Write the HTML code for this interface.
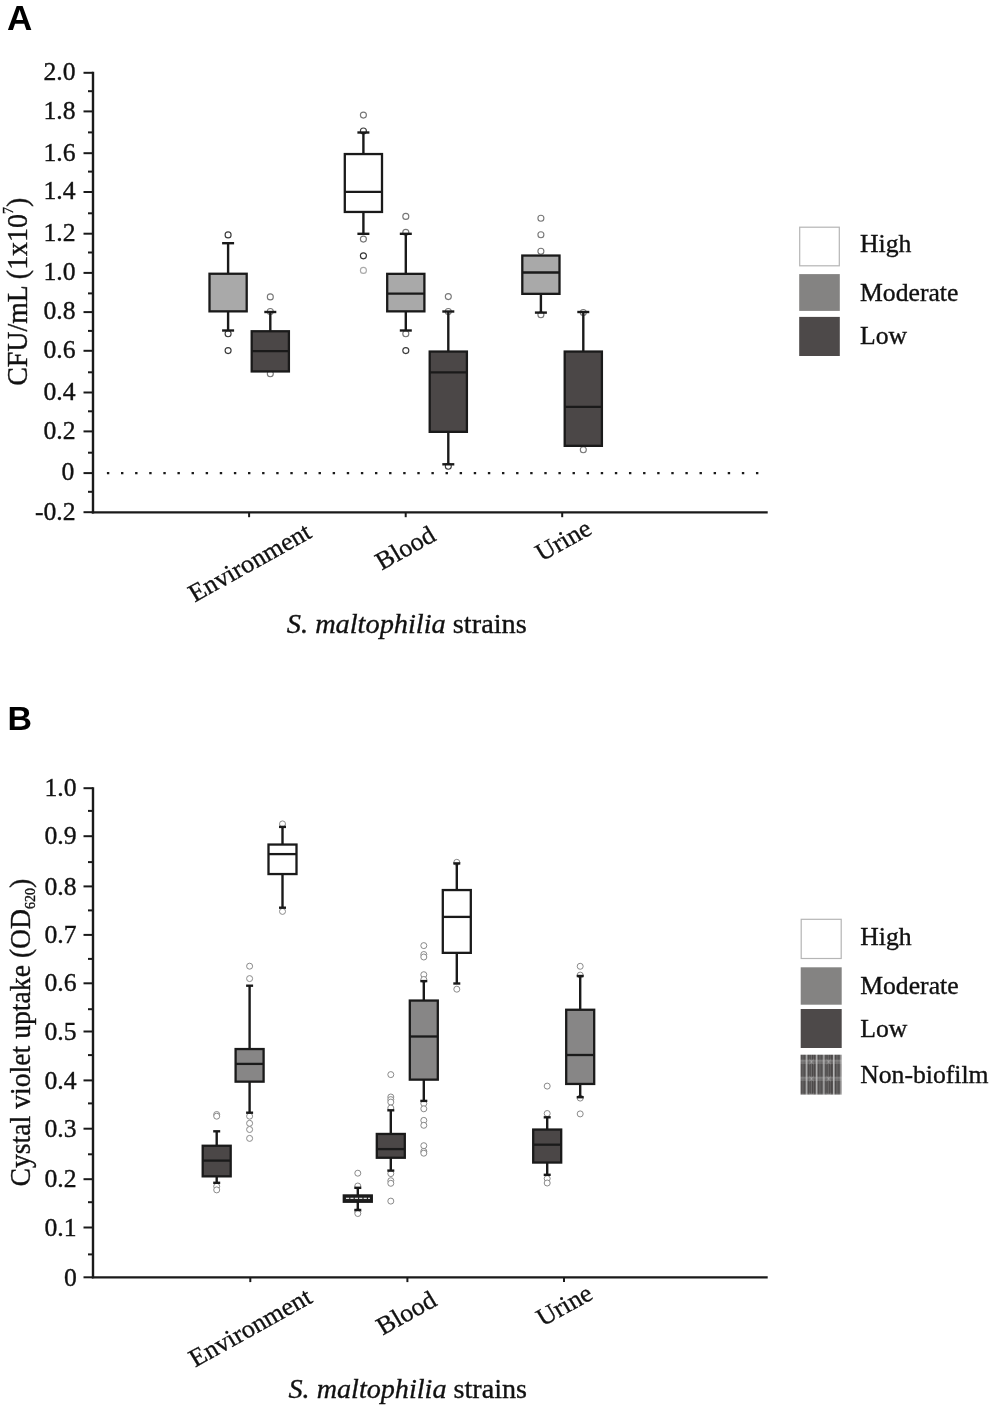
<!DOCTYPE html>
<html lang="en"><head><meta charset="utf-8"><title>Biofilm formation of S. maltophilia strains</title>
<style>html,body{margin:0;padding:0;background:#fff}svg{display:block}.s{font-family:"Liberation Serif", "DejaVu Serif", serif;fill:#111;stroke:#111;stroke-width:.35px;paint-order:stroke}.b{font-family:"Liberation Sans", "DejaVu Sans", sans-serif;font-weight:700;fill:#000}</style></head><body>
<svg width="992" height="1409" viewBox="0 0 992 1409">
<defs><pattern id="nb" x="800.5" y="1054.7" width="17.2" height="17.0" patternUnits="userSpaceOnUse"><rect width="17.2" height="17.0" fill="#4b4848"/><rect x="1.5" y="0" width="0.9" height="17.0" fill="#7a7878"/><rect x="3.4" y="0" width="0.6" height="17.0" fill="#666"/><rect x="5.3" y="0" width="1.7" height="17.0" fill="#b4b4b4"/><rect x="8.6" y="0" width="0.6" height="17.0" fill="#666"/><rect x="10.3" y="0" width="0.9" height="17.0" fill="#7a7878"/><rect x="12.6" y="0" width="0.7" height="17.0" fill="#6a6868"/><rect x="15.2" y="0" width="1.7" height="17.0" fill="#b4b4b4"/><rect x="0" y="5.4" width="17.2" height="1.2" fill="#c8c8c8" opacity="0.55"/><rect x="0" y="7.6" width="17.2" height="1.1" fill="#c8c8c8" opacity="0.45"/><path d="M9 4.6 L13 9.4 M13 4.6 L9 9.4" stroke="#c4c4c4" stroke-width="0.8" opacity="0.7" fill="none"/></pattern></defs>
<rect width="992" height="1409" fill="#fff"/>
<g id="panelA">
<text x="6.9" y="29.8" font-size="35" class="b">A</text>
<line x1="93.0" y1="71.8" x2="93.0" y2="513.4" stroke="#1a1a1a" stroke-width="2.4"/>
<line x1="91.8" y1="512.4" x2="767.7" y2="512.4" stroke="#1a1a1a" stroke-width="2.2"/>
<line x1="83.5" y1="72.8" x2="93.0" y2="72.8" stroke="#1a1a1a" stroke-width="2"/>
<text transform="translate(75.6 80.1) scale(1.04 1)" text-anchor="end" font-size="24.7" class="s">2.0</text>
<line x1="83.5" y1="111.4" x2="93.0" y2="111.4" stroke="#1a1a1a" stroke-width="2"/>
<text transform="translate(75.6 118.7) scale(1.04 1)" text-anchor="end" font-size="24.7" class="s">1.8</text>
<line x1="83.5" y1="153.2" x2="93.0" y2="153.2" stroke="#1a1a1a" stroke-width="2"/>
<text transform="translate(75.6 160.5) scale(1.04 1)" text-anchor="end" font-size="24.7" class="s">1.6</text>
<line x1="83.5" y1="192.0" x2="93.0" y2="192.0" stroke="#1a1a1a" stroke-width="2"/>
<text transform="translate(75.6 199.3) scale(1.04 1)" text-anchor="end" font-size="24.7" class="s">1.4</text>
<line x1="83.5" y1="233.7" x2="93.0" y2="233.7" stroke="#1a1a1a" stroke-width="2"/>
<text transform="translate(75.6 241.0) scale(1.04 1)" text-anchor="end" font-size="24.7" class="s">1.2</text>
<line x1="83.5" y1="272.9" x2="93.0" y2="272.9" stroke="#1a1a1a" stroke-width="2"/>
<text transform="translate(75.6 280.2) scale(1.04 1)" text-anchor="end" font-size="24.7" class="s">1.0</text>
<line x1="83.5" y1="312.1" x2="93.0" y2="312.1" stroke="#1a1a1a" stroke-width="2"/>
<text transform="translate(75.6 319.40000000000003) scale(1.04 1)" text-anchor="end" font-size="24.7" class="s">0.8</text>
<line x1="83.5" y1="350.8" x2="93.0" y2="350.8" stroke="#1a1a1a" stroke-width="2"/>
<text transform="translate(75.6 358.1) scale(1.04 1)" text-anchor="end" font-size="24.7" class="s">0.6</text>
<line x1="83.5" y1="392.5" x2="93.0" y2="392.5" stroke="#1a1a1a" stroke-width="2"/>
<text transform="translate(75.6 399.8) scale(1.04 1)" text-anchor="end" font-size="24.7" class="s">0.4</text>
<line x1="83.5" y1="431.4" x2="93.0" y2="431.4" stroke="#1a1a1a" stroke-width="2"/>
<text transform="translate(75.6 438.7) scale(1.04 1)" text-anchor="end" font-size="24.7" class="s">0.2</text>
<line x1="83.5" y1="473.1" x2="93.0" y2="473.1" stroke="#1a1a1a" stroke-width="2"/>
<text transform="translate(74.39999999999999 480.40000000000003) scale(1.04 1)" text-anchor="end" font-size="24.7" class="s">0</text>
<line x1="83.5" y1="512.2" x2="93.0" y2="512.2" stroke="#1a1a1a" stroke-width="2"/>
<text transform="translate(75.6 519.5) scale(1.04 1)" text-anchor="end" font-size="24.7" class="s">-0.2</text>
<line x1="88.0" y1="91.2" x2="93.0" y2="91.2" stroke="#1a1a1a" stroke-width="2"/>
<line x1="88.0" y1="132.4" x2="93.0" y2="132.4" stroke="#1a1a1a" stroke-width="2"/>
<line x1="88.0" y1="171.6" x2="93.0" y2="171.6" stroke="#1a1a1a" stroke-width="2"/>
<line x1="88.0" y1="213.3" x2="93.0" y2="213.3" stroke="#1a1a1a" stroke-width="2"/>
<line x1="88.0" y1="252.5" x2="93.0" y2="252.5" stroke="#1a1a1a" stroke-width="2"/>
<line x1="88.0" y1="293.4" x2="93.0" y2="293.4" stroke="#1a1a1a" stroke-width="2"/>
<line x1="88.0" y1="330.9" x2="93.0" y2="330.9" stroke="#1a1a1a" stroke-width="2"/>
<line x1="88.0" y1="372.3" x2="93.0" y2="372.3" stroke="#1a1a1a" stroke-width="2"/>
<line x1="88.0" y1="411.3" x2="93.0" y2="411.3" stroke="#1a1a1a" stroke-width="2"/>
<line x1="88.0" y1="452.7" x2="93.0" y2="452.7" stroke="#1a1a1a" stroke-width="2"/>
<line x1="88.0" y1="491.8" x2="93.0" y2="491.8" stroke="#1a1a1a" stroke-width="2"/>
<line x1="249.1" y1="512.4" x2="249.1" y2="517.1999999999999" stroke="#1a1a1a" stroke-width="2"/>
<line x1="405.7" y1="512.4" x2="405.7" y2="517.1999999999999" stroke="#1a1a1a" stroke-width="2"/>
<line x1="562.2" y1="512.4" x2="562.2" y2="517.1999999999999" stroke="#1a1a1a" stroke-width="2"/>
<line x1="106.9" y1="473.1" x2="760" y2="473.1" stroke="#1a1a1a" stroke-width="2.3" stroke-dasharray="2.4 11.71"/>
<text transform="translate(27.3 291.8) scale(1.04 1) rotate(-90)" text-anchor="middle" font-size="27.9" class="s">CFU/mL (1x10<tspan font-size="14" dy="-13.5">7</tspan><tspan dy="13.5">)</tspan></text>
<text transform="translate(253.9 569.6) scale(1.04 1) rotate(-30)" text-anchor="middle" font-size="25.2" class="s">Environment</text>
<text transform="translate(409.5 555) scale(1.04 1) rotate(-30)" text-anchor="middle" font-size="25.2" class="s">Blood</text>
<text transform="translate(567.5 547.5) scale(1.04 1) rotate(-30)" text-anchor="middle" font-size="25.2" class="s">Urine</text>
<text transform="translate(286.8 633.0) scale(1.031 1)" text-anchor="start" font-size="27.5" class="s"><tspan font-style="italic">S. maltophilia</tspan> strains</text>
<circle cx="228.1" cy="234.9" r="3.0" fill="#fff" stroke="#3a3a3a" stroke-width="1.15"/>
<circle cx="228.1" cy="333.7" r="3.0" fill="#fff" stroke="#3a3a3a" stroke-width="1.15"/>
<circle cx="228.1" cy="350.6" r="3.0" fill="#fff" stroke="#3a3a3a" stroke-width="1.15"/>
<line x1="228.1" y1="243.2" x2="228.1" y2="273.75" stroke="#1a1a1a" stroke-width="2.4"/>
<line x1="222.1" y1="243.2" x2="234.1" y2="243.2" stroke="#1a1a1a" stroke-width="2.4"/>
<line x1="228.1" y1="311.35" x2="228.1" y2="330.5" stroke="#1a1a1a" stroke-width="2.4"/>
<line x1="222.1" y1="330.5" x2="234.1" y2="330.5" stroke="#1a1a1a" stroke-width="2.4"/>
<rect x="209.50" y="273.75" width="37.20" height="37.60" fill="#a9a9a9" stroke="#1a1a1a" stroke-width="2.3"/>
<circle cx="270.3" cy="296.9" r="3.0" fill="#fff" stroke="#777" stroke-width="1.1"/>
<circle cx="270.3" cy="311.5" r="3.0" fill="#fff" stroke="#777" stroke-width="1.1"/>
<circle cx="270.3" cy="373.8" r="3.0" fill="#fff" stroke="#777" stroke-width="1.1"/>
<line x1="270.3" y1="312.0" x2="270.3" y2="331.25" stroke="#1a1a1a" stroke-width="2.4"/>
<line x1="264.3" y1="312.0" x2="276.3" y2="312.0" stroke="#1a1a1a" stroke-width="2.4"/>
<rect x="251.70" y="331.25" width="37.20" height="40.20" fill="#4b4747" stroke="#1a1a1a" stroke-width="2.3"/>
<line x1="251.70" y1="351.2" x2="288.90" y2="351.2" stroke="#1a1a1a" stroke-width="2.3"/>
<circle cx="363.4" cy="115.1" r="3.0" fill="#fff" stroke="#777" stroke-width="1.15"/>
<circle cx="363.4" cy="131.0" r="3.0" fill="#fff" stroke="#3a3a3a" stroke-width="1.15"/>
<circle cx="363.4" cy="239.1" r="3.0" fill="#fff" stroke="#777" stroke-width="1.15"/>
<circle cx="363.4" cy="255.8" r="3.0" fill="#fff" stroke="#333" stroke-width="1.15"/>
<circle cx="363.4" cy="270.4" r="3.0" fill="#fff" stroke="#aaa" stroke-width="1.15"/>
<line x1="363.4" y1="132.5" x2="363.4" y2="154.05" stroke="#1a1a1a" stroke-width="2.4"/>
<line x1="357.4" y1="132.5" x2="369.4" y2="132.5" stroke="#1a1a1a" stroke-width="2.4"/>
<line x1="363.4" y1="211.95" x2="363.4" y2="233.8" stroke="#1a1a1a" stroke-width="2.4"/>
<line x1="357.4" y1="233.8" x2="369.4" y2="233.8" stroke="#1a1a1a" stroke-width="2.4"/>
<rect x="344.80" y="154.05" width="37.20" height="57.90" fill="#fff" stroke="#1a1a1a" stroke-width="2.3"/>
<line x1="344.80" y1="191.9" x2="382.00" y2="191.9" stroke="#1a1a1a" stroke-width="2.3"/>
<circle cx="405.8" cy="216.4" r="3.0" fill="#fff" stroke="#777" stroke-width="1.15"/>
<circle cx="405.8" cy="232.3" r="3.0" fill="#fff" stroke="#777" stroke-width="1.15"/>
<circle cx="405.8" cy="333.7" r="3.0" fill="#fff" stroke="#777" stroke-width="1.15"/>
<circle cx="405.8" cy="350.6" r="3.0" fill="#fff" stroke="#3a3a3a" stroke-width="1.15"/>
<line x1="405.8" y1="233.8" x2="405.8" y2="273.84999999999997" stroke="#1a1a1a" stroke-width="2.4"/>
<line x1="399.8" y1="233.8" x2="411.8" y2="233.8" stroke="#1a1a1a" stroke-width="2.4"/>
<line x1="405.8" y1="311.35" x2="405.8" y2="330.5" stroke="#1a1a1a" stroke-width="2.4"/>
<line x1="399.8" y1="330.5" x2="411.8" y2="330.5" stroke="#1a1a1a" stroke-width="2.4"/>
<rect x="387.20" y="273.85" width="37.20" height="37.50" fill="#a9a9a9" stroke="#1a1a1a" stroke-width="2.3"/>
<line x1="387.20" y1="293.6" x2="424.40" y2="293.6" stroke="#1a1a1a" stroke-width="2.3"/>
<circle cx="448.3" cy="296.6" r="3.0" fill="#fff" stroke="#777" stroke-width="1.1"/>
<circle cx="448.3" cy="311.5" r="3.0" fill="#fff" stroke="#777" stroke-width="1.1"/>
<circle cx="448.3" cy="466.3" r="3.0" fill="#fff" stroke="#3a3a3a" stroke-width="1.1"/>
<line x1="448.3" y1="311.5" x2="448.3" y2="351.54999999999995" stroke="#1a1a1a" stroke-width="2.4"/>
<line x1="442.3" y1="311.5" x2="454.3" y2="311.5" stroke="#1a1a1a" stroke-width="2.4"/>
<line x1="448.3" y1="431.85" x2="448.3" y2="464.3" stroke="#1a1a1a" stroke-width="2.4"/>
<line x1="442.3" y1="464.3" x2="454.3" y2="464.3" stroke="#1a1a1a" stroke-width="2.4"/>
<rect x="429.70" y="351.55" width="37.20" height="80.30" fill="#4b4747" stroke="#1a1a1a" stroke-width="2.3"/>
<line x1="429.70" y1="372.4" x2="466.90" y2="372.4" stroke="#1a1a1a" stroke-width="2.3"/>
<circle cx="540.9" cy="218.3" r="3.0" fill="#fff" stroke="#777" stroke-width="1.1"/>
<circle cx="540.9" cy="234.8" r="3.0" fill="#fff" stroke="#777" stroke-width="1.1"/>
<circle cx="540.9" cy="251.3" r="3.0" fill="#fff" stroke="#777" stroke-width="1.1"/>
<circle cx="540.9" cy="314.8" r="3.0" fill="#fff" stroke="#777" stroke-width="1.1"/>
<line x1="540.9" y1="293.85" x2="540.9" y2="312.6" stroke="#1a1a1a" stroke-width="2.4"/>
<line x1="534.9" y1="312.6" x2="546.9" y2="312.6" stroke="#1a1a1a" stroke-width="2.4"/>
<rect x="522.30" y="255.55" width="37.20" height="38.30" fill="#a9a9a9" stroke="#1a1a1a" stroke-width="2.3"/>
<line x1="522.30" y1="272.5" x2="559.50" y2="272.5" stroke="#1a1a1a" stroke-width="2.3"/>
<circle cx="583.3" cy="312.5" r="3.0" fill="#fff" stroke="#777" stroke-width="1.1"/>
<circle cx="583.3" cy="449.7" r="3.0" fill="#fff" stroke="#777" stroke-width="1.1"/>
<line x1="583.3" y1="312.0" x2="583.3" y2="351.54999999999995" stroke="#1a1a1a" stroke-width="2.4"/>
<line x1="577.3" y1="312.0" x2="589.3" y2="312.0" stroke="#1a1a1a" stroke-width="2.4"/>
<rect x="564.70" y="351.55" width="37.20" height="94.30" fill="#4b4747" stroke="#1a1a1a" stroke-width="2.3"/>
<line x1="564.70" y1="406.9" x2="601.90" y2="406.9" stroke="#1a1a1a" stroke-width="2.3"/>
<rect x="799.7" y="227.2" width="39.6" height="38.6" fill="#fff" stroke="#b5b5b5" stroke-width="1.2"/>
<rect x="799.2" y="274.1" width="40.6" height="36.8" fill="#848382"/>
<rect x="799.2" y="316.9" width="40.6" height="39.1" fill="#4d4949"/>
<text transform="translate(860 252.3) scale(1.04 1)" text-anchor="start" font-size="24.7" class="s">High</text>
<text transform="translate(860 300.8) scale(1.04 1)" text-anchor="start" font-size="24.7" class="s">Moderate</text>
<text transform="translate(860 344.0) scale(1.04 1)" text-anchor="start" font-size="24.7" class="s">Low</text>
</g>
<g id="panelB">
<text x="7.5" y="730.4" font-size="33.9" class="b">B</text>
<line x1="93.0" y1="787.2" x2="93.0" y2="1278.3" stroke="#1a1a1a" stroke-width="2.4"/>
<line x1="91.8" y1="1277.3" x2="767.7" y2="1277.3" stroke="#1a1a1a" stroke-width="2.2"/>
<line x1="83.5" y1="788.2" x2="93.0" y2="788.2" stroke="#1a1a1a" stroke-width="2"/>
<text transform="translate(76.5 796.3) scale(1.04 1)" text-anchor="end" font-size="24.7" class="s">1.0</text>
<line x1="83.5" y1="836.2" x2="93.0" y2="836.2" stroke="#1a1a1a" stroke-width="2"/>
<text transform="translate(76.5 844.3) scale(1.04 1)" text-anchor="end" font-size="24.7" class="s">0.9</text>
<line x1="83.5" y1="886.4" x2="93.0" y2="886.4" stroke="#1a1a1a" stroke-width="2"/>
<text transform="translate(76.5 894.4999999999999) scale(1.04 1)" text-anchor="end" font-size="24.7" class="s">0.8</text>
<line x1="83.5" y1="934.9" x2="93.0" y2="934.9" stroke="#1a1a1a" stroke-width="2"/>
<text transform="translate(76.5 942.9999999999999) scale(1.04 1)" text-anchor="end" font-size="24.7" class="s">0.7</text>
<line x1="83.5" y1="983.3" x2="93.0" y2="983.3" stroke="#1a1a1a" stroke-width="2"/>
<text transform="translate(76.5 991.3999999999999) scale(1.04 1)" text-anchor="end" font-size="24.7" class="s">0.6</text>
<line x1="83.5" y1="1031.5" x2="93.0" y2="1031.5" stroke="#1a1a1a" stroke-width="2"/>
<text transform="translate(76.5 1039.6) scale(1.04 1)" text-anchor="end" font-size="24.7" class="s">0.5</text>
<line x1="83.5" y1="1080.4" x2="93.0" y2="1080.4" stroke="#1a1a1a" stroke-width="2"/>
<text transform="translate(76.5 1088.5) scale(1.04 1)" text-anchor="end" font-size="24.7" class="s">0.4</text>
<line x1="83.5" y1="1128.7" x2="93.0" y2="1128.7" stroke="#1a1a1a" stroke-width="2"/>
<text transform="translate(76.5 1136.8) scale(1.04 1)" text-anchor="end" font-size="24.7" class="s">0.3</text>
<line x1="83.5" y1="1179.2" x2="93.0" y2="1179.2" stroke="#1a1a1a" stroke-width="2"/>
<text transform="translate(76.5 1187.3) scale(1.04 1)" text-anchor="end" font-size="24.7" class="s">0.2</text>
<line x1="83.5" y1="1227.5" x2="93.0" y2="1227.5" stroke="#1a1a1a" stroke-width="2"/>
<text transform="translate(76.5 1235.6) scale(1.04 1)" text-anchor="end" font-size="24.7" class="s">0.1</text>
<line x1="83.5" y1="1277.3" x2="93.0" y2="1277.3" stroke="#1a1a1a" stroke-width="2"/>
<text transform="translate(76.8 1286.3) scale(1.04 1)" text-anchor="end" font-size="24.7" class="s">0</text>
<line x1="88.0" y1="810.9" x2="93.0" y2="810.9" stroke="#1a1a1a" stroke-width="2"/>
<line x1="88.0" y1="862.1" x2="93.0" y2="862.1" stroke="#1a1a1a" stroke-width="2"/>
<line x1="88.0" y1="910.4" x2="93.0" y2="910.4" stroke="#1a1a1a" stroke-width="2"/>
<line x1="88.0" y1="958.9" x2="93.0" y2="958.9" stroke="#1a1a1a" stroke-width="2"/>
<line x1="88.0" y1="1009.2" x2="93.0" y2="1009.2" stroke="#1a1a1a" stroke-width="2"/>
<line x1="88.0" y1="1055.1" x2="93.0" y2="1055.1" stroke="#1a1a1a" stroke-width="2"/>
<line x1="88.0" y1="1103.4" x2="93.0" y2="1103.4" stroke="#1a1a1a" stroke-width="2"/>
<line x1="88.0" y1="1154.3" x2="93.0" y2="1154.3" stroke="#1a1a1a" stroke-width="2"/>
<line x1="88.0" y1="1202.2" x2="93.0" y2="1202.2" stroke="#1a1a1a" stroke-width="2"/>
<line x1="88.0" y1="1254.4" x2="93.0" y2="1254.4" stroke="#1a1a1a" stroke-width="2"/>
<line x1="250.3" y1="1277.3" x2="250.3" y2="1282.1" stroke="#1a1a1a" stroke-width="2"/>
<line x1="407.4" y1="1277.3" x2="407.4" y2="1282.1" stroke="#1a1a1a" stroke-width="2"/>
<line x1="564.0" y1="1277.3" x2="564.0" y2="1282.1" stroke="#1a1a1a" stroke-width="2"/>
<text transform="translate(29.6 1032.6) scale(1.04 1) rotate(-90)" text-anchor="middle" font-size="27.7" class="s">Cystal violet uptake (OD<tspan font-size="14" dy="5">620</tspan><tspan dy="-5">)</tspan></text>
<text transform="translate(254.5 1334.6) scale(1.04 1) rotate(-30)" text-anchor="middle" font-size="25.2" class="s">Environment</text>
<text transform="translate(410.5 1320) scale(1.04 1) rotate(-30)" text-anchor="middle" font-size="25.2" class="s">Blood</text>
<text transform="translate(568.5 1312.5) scale(1.04 1) rotate(-30)" text-anchor="middle" font-size="25.2" class="s">Urine</text>
<text transform="translate(288.5 1398.4) scale(1.024 1)" text-anchor="start" font-size="27.5" class="s"><tspan font-style="italic">S. maltophilia</tspan> strains</text>
<circle cx="216.7" cy="1114.5" r="3.0" fill="#fff" stroke="#8a8a8a" stroke-width="1.0"/>
<circle cx="216.7" cy="1116.2" r="3.0" fill="#fff" stroke="#8a8a8a" stroke-width="1.0"/>
<circle cx="216.7" cy="1186.3" r="3.0" fill="#fff" stroke="#8a8a8a" stroke-width="1.0"/>
<circle cx="216.7" cy="1189.9" r="3.0" fill="#fff" stroke="#8a8a8a" stroke-width="1.0"/>
<line x1="216.7" y1="1131.3" x2="216.7" y2="1145.75" stroke="#1a1a1a" stroke-width="2.4"/>
<line x1="213.2" y1="1131.3" x2="220.2" y2="1131.3" stroke="#1a1a1a" stroke-width="2.4"/>
<line x1="216.7" y1="1176.35" x2="216.7" y2="1182.8" stroke="#1a1a1a" stroke-width="2.4"/>
<line x1="213.2" y1="1182.8" x2="220.2" y2="1182.8" stroke="#1a1a1a" stroke-width="2.4"/>
<rect x="202.70" y="1145.75" width="28.00" height="30.60" fill="#4b4747" stroke="#1a1a1a" stroke-width="2.3"/>
<line x1="202.70" y1="1160.6" x2="230.70" y2="1160.6" stroke="#1a1a1a" stroke-width="2.3"/>
<circle cx="249.6" cy="966.2" r="3.0" fill="#fff" stroke="#8a8a8a" stroke-width="1.0"/>
<circle cx="249.6" cy="978.6" r="3.0" fill="#fff" stroke="#8a8a8a" stroke-width="1.0"/>
<circle cx="249.6" cy="1116.2" r="3.0" fill="#fff" stroke="#8a8a8a" stroke-width="1.0"/>
<circle cx="249.6" cy="1123.3" r="3.0" fill="#fff" stroke="#8a8a8a" stroke-width="1.0"/>
<circle cx="249.6" cy="1129.5" r="3.0" fill="#fff" stroke="#8a8a8a" stroke-width="1.0"/>
<circle cx="249.6" cy="1138.4" r="3.0" fill="#fff" stroke="#8a8a8a" stroke-width="1.0"/>
<line x1="249.6" y1="985.7" x2="249.6" y2="1049.0500000000002" stroke="#1a1a1a" stroke-width="2.4"/>
<line x1="246.1" y1="985.7" x2="253.1" y2="985.7" stroke="#1a1a1a" stroke-width="2.4"/>
<line x1="249.6" y1="1081.6499999999999" x2="249.6" y2="1112.7" stroke="#1a1a1a" stroke-width="2.4"/>
<line x1="246.1" y1="1112.7" x2="253.1" y2="1112.7" stroke="#1a1a1a" stroke-width="2.4"/>
<rect x="235.60" y="1049.05" width="28.00" height="32.60" fill="#878686" stroke="#1a1a1a" stroke-width="2.3"/>
<line x1="235.60" y1="1063.9" x2="263.60" y2="1063.9" stroke="#1a1a1a" stroke-width="2.3"/>
<circle cx="282.5" cy="823.9" r="3.0" fill="#fff" stroke="#8a8a8a" stroke-width="1.0"/>
<circle cx="282.5" cy="911.4" r="3.0" fill="#fff" stroke="#8a8a8a" stroke-width="1.0"/>
<line x1="282.5" y1="826.9" x2="282.5" y2="844.55" stroke="#1a1a1a" stroke-width="2.4"/>
<line x1="279.0" y1="826.9" x2="286.0" y2="826.9" stroke="#1a1a1a" stroke-width="2.4"/>
<line x1="282.5" y1="874.0500000000001" x2="282.5" y2="907.7" stroke="#1a1a1a" stroke-width="2.4"/>
<line x1="279.0" y1="907.7" x2="286.0" y2="907.7" stroke="#1a1a1a" stroke-width="2.4"/>
<rect x="268.50" y="844.55" width="28.00" height="29.50" fill="#fff" stroke="#1a1a1a" stroke-width="2.3"/>
<line x1="268.50" y1="854.1" x2="296.50" y2="854.1" stroke="#1a1a1a" stroke-width="2.3"/>
<circle cx="357.8" cy="1173.2" r="3.0" fill="#fff" stroke="#8a8a8a" stroke-width="1.0"/>
<circle cx="357.8" cy="1186.0" r="3.0" fill="#fff" stroke="#8a8a8a" stroke-width="1.0"/>
<circle cx="357.8" cy="1211.7" r="3.0" fill="#fff" stroke="#8a8a8a" stroke-width="1.0"/>
<circle cx="357.8" cy="1213.5" r="3.0" fill="#fff" stroke="#8a8a8a" stroke-width="1.0"/>
<line x1="357.8" y1="1187.8" x2="357.8" y2="1195.5" stroke="#1a1a1a" stroke-width="2.4"/>
<line x1="354.3" y1="1187.8" x2="361.3" y2="1187.8" stroke="#1a1a1a" stroke-width="2.4"/>
<line x1="357.8" y1="1201.7" x2="357.8" y2="1210.0" stroke="#1a1a1a" stroke-width="2.4"/>
<line x1="354.3" y1="1210.0" x2="361.3" y2="1210.0" stroke="#1a1a1a" stroke-width="2.4"/>
<rect x="343.85" y="1195.50" width="27.90" height="6.20" fill="#222" stroke="#1a1a1a" stroke-width="2.4"/>
<line x1="346" y1="1198.4" x2="370" y2="1198.4" stroke="#ddd" stroke-width="1.4" stroke-dasharray="3.2 1.2"/>
<circle cx="390.8" cy="1074.6" r="3.0" fill="#fff" stroke="#8a8a8a" stroke-width="1.0"/>
<circle cx="390.8" cy="1097.0" r="3.0" fill="#fff" stroke="#8a8a8a" stroke-width="1.0"/>
<circle cx="390.8" cy="1099.6" r="3.0" fill="#fff" stroke="#8a8a8a" stroke-width="1.0"/>
<circle cx="390.8" cy="1102.1" r="3.0" fill="#fff" stroke="#8a8a8a" stroke-width="1.0"/>
<circle cx="390.8" cy="1108.0" r="3.0" fill="#fff" stroke="#8a8a8a" stroke-width="1.0"/>
<circle cx="390.8" cy="1173.6" r="3.0" fill="#fff" stroke="#8a8a8a" stroke-width="1.0"/>
<circle cx="390.8" cy="1180.7" r="3.0" fill="#fff" stroke="#8a8a8a" stroke-width="1.0"/>
<circle cx="390.8" cy="1183.3" r="3.0" fill="#fff" stroke="#8a8a8a" stroke-width="1.0"/>
<circle cx="390.8" cy="1201.1" r="3.0" fill="#fff" stroke="#8a8a8a" stroke-width="1.0"/>
<line x1="390.8" y1="1110.3" x2="390.8" y2="1133.95" stroke="#1a1a1a" stroke-width="2.4"/>
<line x1="387.3" y1="1110.3" x2="394.3" y2="1110.3" stroke="#1a1a1a" stroke-width="2.4"/>
<line x1="390.8" y1="1157.75" x2="390.8" y2="1170.6" stroke="#1a1a1a" stroke-width="2.4"/>
<line x1="387.3" y1="1170.6" x2="394.3" y2="1170.6" stroke="#1a1a1a" stroke-width="2.4"/>
<rect x="376.80" y="1133.95" width="28.00" height="23.80" fill="#4b4747" stroke="#1a1a1a" stroke-width="2.3"/>
<line x1="376.80" y1="1149.1" x2="404.80" y2="1149.1" stroke="#1a1a1a" stroke-width="2.3"/>
<circle cx="423.8" cy="945.6" r="3.0" fill="#fff" stroke="#8a8a8a" stroke-width="1.0"/>
<circle cx="423.8" cy="954.5" r="3.0" fill="#fff" stroke="#8a8a8a" stroke-width="1.0"/>
<circle cx="423.8" cy="957.0" r="3.0" fill="#fff" stroke="#8a8a8a" stroke-width="1.0"/>
<circle cx="423.8" cy="974.7" r="3.0" fill="#fff" stroke="#8a8a8a" stroke-width="1.0"/>
<circle cx="423.8" cy="979.5" r="3.0" fill="#fff" stroke="#8a8a8a" stroke-width="1.0"/>
<circle cx="423.8" cy="1103.5" r="3.0" fill="#fff" stroke="#8a8a8a" stroke-width="1.0"/>
<circle cx="423.8" cy="1108.8" r="3.0" fill="#fff" stroke="#8a8a8a" stroke-width="1.0"/>
<circle cx="423.8" cy="1120.4" r="3.0" fill="#fff" stroke="#8a8a8a" stroke-width="1.0"/>
<circle cx="423.8" cy="1125.3" r="3.0" fill="#fff" stroke="#8a8a8a" stroke-width="1.0"/>
<circle cx="423.8" cy="1145.7" r="3.0" fill="#fff" stroke="#8a8a8a" stroke-width="1.0"/>
<circle cx="423.8" cy="1151.4" r="3.0" fill="#fff" stroke="#8a8a8a" stroke-width="1.0"/>
<circle cx="423.8" cy="1153.2" r="3.0" fill="#fff" stroke="#8a8a8a" stroke-width="1.0"/>
<line x1="423.8" y1="981.1" x2="423.8" y2="1000.55" stroke="#1a1a1a" stroke-width="2.4"/>
<line x1="420.3" y1="981.1" x2="427.3" y2="981.1" stroke="#1a1a1a" stroke-width="2.4"/>
<line x1="423.8" y1="1079.6499999999999" x2="423.8" y2="1100.9" stroke="#1a1a1a" stroke-width="2.4"/>
<line x1="420.3" y1="1100.9" x2="427.3" y2="1100.9" stroke="#1a1a1a" stroke-width="2.4"/>
<rect x="409.80" y="1000.55" width="28.00" height="79.10" fill="#878686" stroke="#1a1a1a" stroke-width="2.3"/>
<line x1="409.80" y1="1036.5" x2="437.80" y2="1036.5" stroke="#1a1a1a" stroke-width="2.3"/>
<circle cx="456.8" cy="862.3" r="3.0" fill="#fff" stroke="#8a8a8a" stroke-width="1.0"/>
<circle cx="456.8" cy="989.2" r="3.0" fill="#fff" stroke="#8a8a8a" stroke-width="1.0"/>
<line x1="456.8" y1="863.4" x2="456.8" y2="890.05" stroke="#1a1a1a" stroke-width="2.4"/>
<line x1="453.3" y1="863.4" x2="460.3" y2="863.4" stroke="#1a1a1a" stroke-width="2.4"/>
<line x1="456.8" y1="952.85" x2="456.8" y2="983.5" stroke="#1a1a1a" stroke-width="2.4"/>
<line x1="453.3" y1="983.5" x2="460.3" y2="983.5" stroke="#1a1a1a" stroke-width="2.4"/>
<rect x="442.80" y="890.05" width="28.00" height="62.80" fill="#fff" stroke="#1a1a1a" stroke-width="2.3"/>
<line x1="442.80" y1="916.9" x2="470.80" y2="916.9" stroke="#1a1a1a" stroke-width="2.3"/>
<circle cx="547.2" cy="1086.1" r="3.0" fill="#fff" stroke="#8a8a8a" stroke-width="1.0"/>
<circle cx="547.2" cy="1113.5" r="3.0" fill="#fff" stroke="#8a8a8a" stroke-width="1.0"/>
<circle cx="547.2" cy="1178.6" r="3.0" fill="#fff" stroke="#8a8a8a" stroke-width="1.0"/>
<circle cx="547.2" cy="1183.0" r="3.0" fill="#fff" stroke="#8a8a8a" stroke-width="1.0"/>
<line x1="547.2" y1="1117.3" x2="547.2" y2="1129.5500000000002" stroke="#1a1a1a" stroke-width="2.4"/>
<line x1="543.7" y1="1117.3" x2="550.7" y2="1117.3" stroke="#1a1a1a" stroke-width="2.4"/>
<line x1="547.2" y1="1162.55" x2="547.2" y2="1174.8" stroke="#1a1a1a" stroke-width="2.4"/>
<line x1="543.7" y1="1174.8" x2="550.7" y2="1174.8" stroke="#1a1a1a" stroke-width="2.4"/>
<rect x="533.20" y="1129.55" width="28.00" height="33.00" fill="#4b4747" stroke="#1a1a1a" stroke-width="2.3"/>
<line x1="533.20" y1="1144.7" x2="561.20" y2="1144.7" stroke="#1a1a1a" stroke-width="2.3"/>
<circle cx="580.2" cy="966.3" r="3.0" fill="#fff" stroke="#8a8a8a" stroke-width="1.0"/>
<circle cx="580.2" cy="975.1" r="3.0" fill="#fff" stroke="#8a8a8a" stroke-width="1.0"/>
<circle cx="580.2" cy="1098.1" r="3.0" fill="#fff" stroke="#8a8a8a" stroke-width="1.0"/>
<circle cx="580.2" cy="1113.9" r="3.0" fill="#fff" stroke="#8a8a8a" stroke-width="1.0"/>
<line x1="580.2" y1="976.0" x2="580.2" y2="1009.75" stroke="#1a1a1a" stroke-width="2.4"/>
<line x1="576.7" y1="976.0" x2="583.7" y2="976.0" stroke="#1a1a1a" stroke-width="2.4"/>
<line x1="580.2" y1="1083.9499999999998" x2="580.2" y2="1097.2" stroke="#1a1a1a" stroke-width="2.4"/>
<line x1="576.7" y1="1097.2" x2="583.7" y2="1097.2" stroke="#1a1a1a" stroke-width="2.4"/>
<rect x="566.20" y="1009.75" width="28.00" height="74.20" fill="#878686" stroke="#1a1a1a" stroke-width="2.3"/>
<line x1="566.20" y1="1055.0" x2="594.20" y2="1055.0" stroke="#1a1a1a" stroke-width="2.3"/>
<rect x="801.2" y="919.3" width="40" height="39.2" fill="#fff" stroke="#b5b5b5" stroke-width="1.2"/>
<rect x="800.7" y="967.3" width="41" height="37.4" fill="#848382"/>
<rect x="800.7" y="1009.0" width="41" height="39" fill="#4d4949"/>
<rect x="800.5" y="1054.7" width="41.2" height="40" fill="url(#nb)"/>
<text transform="translate(860.2 944.5) scale(1.04 1)" text-anchor="start" font-size="24.7" class="s">High</text>
<text transform="translate(860.2 994.0) scale(1.04 1)" text-anchor="start" font-size="24.7" class="s">Moderate</text>
<text transform="translate(860.2 1036.8) scale(1.04 1)" text-anchor="start" font-size="24.7" class="s">Low</text>
<text transform="translate(860.2 1083.4) scale(1.04 1)" text-anchor="start" font-size="24.7" class="s">Non-biofilm</text>
</g>
</svg></body></html>
